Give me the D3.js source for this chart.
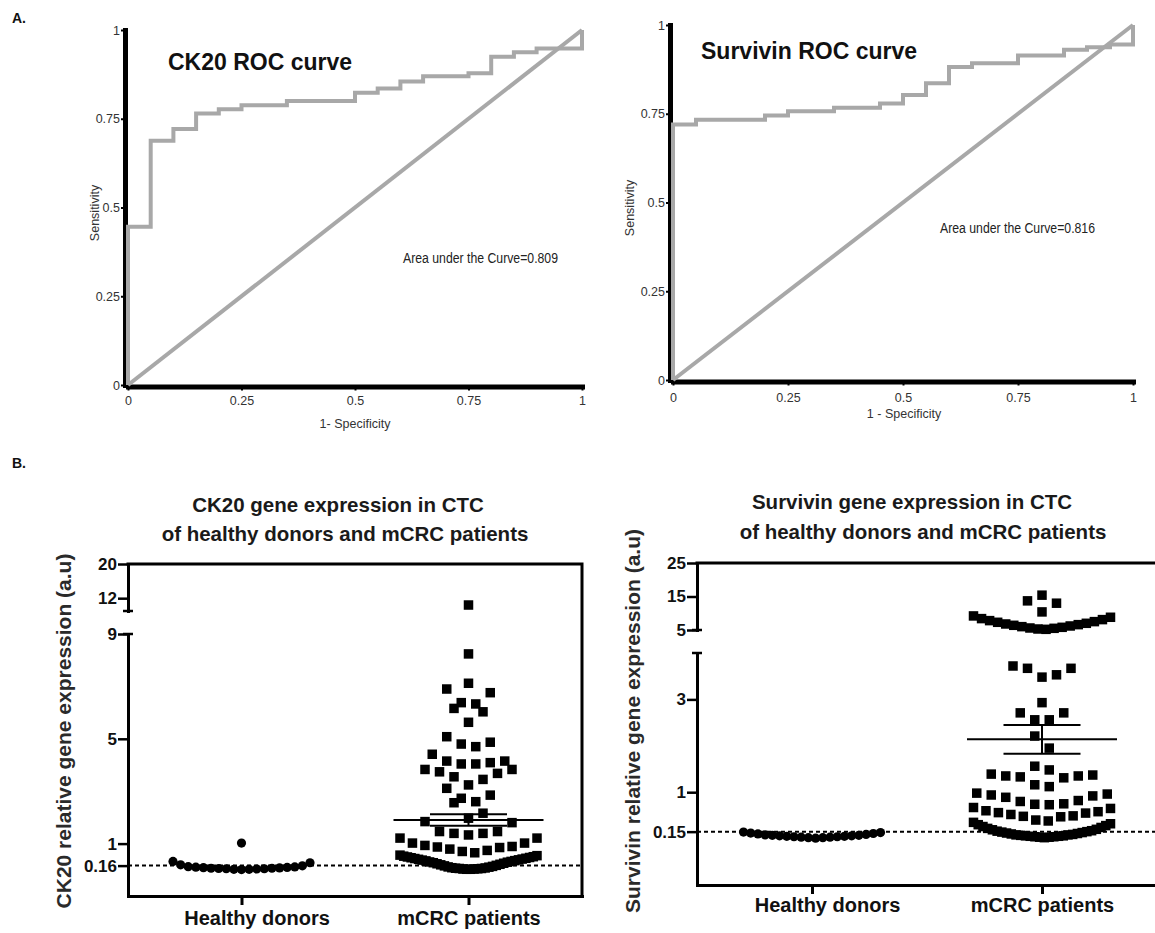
<!DOCTYPE html>
<html><head><meta charset="utf-8">
<script src="https://cdn.jsdelivr.net/npm/d3@7"></script>
<style>
body{margin:0;background:#fff}
svg{display:block}
</style>
</head><body>
<svg id="c" width="1155" height="933"></svg>
<script>
// ---------------- DATA ----------------
const rocTicks = [0, 0.25, 0.5, 0.75, 1];
const rocTickLabels = ["0", "0.25", "0.5", "0.75", "1"];

const ck20RocFpr = [0, 0, 0.05, 0.10, 0.15, 0.20, 0.25, 0.35, 0.50, 0.55, 0.60, 0.65, 0.75, 0.80, 0.85, 0.90, 1];
const ck20RocTpr = [0, 0.446, 0.688, 0.721, 0.765, 0.777, 0.788, 0.800, 0.823, 0.835, 0.855, 0.870, 0.878, 0.925, 0.937, 0.948, 1];
const ck20Auc = "0.809";

const survRocFpr = [0, 0, 0.05, 0.20, 0.25, 0.35, 0.45, 0.50, 0.55, 0.60, 0.65, 0.75, 0.85, 0.90, 0.95, 1];
const survRocTpr = [0, 0.720, 0.733, 0.745, 0.757, 0.767, 0.779, 0.803, 0.836, 0.882, 0.892, 0.914, 0.930, 0.937, 0.945, 1];
const survAuc = "0.816";

const groups = ["Healthy donors", "mCRC patients"];

const ck20Healthy = [1.02, 0.32, 0.27, 0.19, 0.15, 0.12, 0.11, 0.10, 0.09, 0.08,
  0.07, 0.06, 0.06, 0.05, 0.04, 0.04, 0.03, 0.02, 0.02, 0.01];
const ck20Patients = [10.4, 8.24, 7.12, 6.90, 6.76, 6.38, 6.33, 6.16, 6.03, 5.63,
  5.08, 4.87, 4.80, 4.70, 4.41, 4.15, 4.15, 4.09, 4.04, 4.04,
  3.83, 3.83, 3.74, 3.68, 3.55, 3.45, 3.24, 3.11, 2.85, 2.73,
  2.60, 2.56, 2.16, 1.97, 1.84, 1.80, 1.46, 1.46, 1.39, 1.39,
  1.33, 1.21, 1.21, 1.02, 1.02, 0.93, 0.89, 0.87, 0.85, 0.79,
  0.74, 0.70, 0.65,
  0.56, 0.54, 0.52, 0.50, 0.49, 0.47, 0.46, 0.44, 0.43, 0.41,
  0.40, 0.38, 0.37, 0.35, 0.34, 0.32, 0.30, 0.29, 0.27, 0.25,
  0.23, 0.21, 0.19, 0.17, 0.15, 0.13, 0.11, 0.10, 0.08, 0.07,
  0.06, 0.05, 0.05, 0.04, 0.03, 0.03, 0.02, 0.02];
const ck20Cutoff = 0.16;
const ck20PatientMean = 1.90;
const ck20PatientSem = 0.22;
const ck20UpperTicks = [20, 12];
const ck20LowerTicks = [9, 5, 1, 0.16];

const survHealthy = [0.01, 0.02, 0.02, 0.03, 0.03, 0.04, 0.04, 0.05, 0.05, 0.06,
  0.06, 0.07, 0.07, 0.08, 0.09, 0.10, 0.11, 0.12, 0.13, 0.14];
const survPatients = [15.4, 13.7, 13.0, 10.4,
  9.2, 8.8, 8.4, 8.1, 7.8, 7.5, 7.3, 7.0, 6.8, 6.6, 6.4, 6.2, 6.0, 5.8, 5.6, 5.5, 5.3, 5.2,
  3.72, 3.67, 3.67, 3.53, 3.48, 2.93, 2.71, 2.71, 2.56, 2.56,
  2.21, 1.95, 1.56, 1.48, 1.39, 1.37, 1.35, 1.35, 1.33, 1.31, 1.16, 1.12,
  0.98, 0.96, 0.94, 0.92, 0.89, 0.82, 0.80, 0.75, 0.74, 0.73,
  0.67, 0.65, 0.60, 0.58, 0.56, 0.55, 0.52, 0.49, 0.48, 0.47, 0.40, 0.38,
  0.35, 0.32, 0.30, 0.28, 0.26, 0.24, 0.22, 0.20, 0.19, 0.17,
  0.16, 0.15, 0.14, 0.13, 0.12, 0.11, 0.10, 0.09, 0.08, 0.08,
  0.07, 0.06, 0.06, 0.05, 0.05, 0.04, 0.04, 0.03, 0.03, 0.02];
const survCutoff = 0.15;
const survPatientMean = 2.14;
const survPatientSem = 0.31;
const survUpperTicks = [25, 15, 5];
const survLowerTicks = [3, 1, 0.15];

// ---------------- STYLE / LAYOUT CONSTANTS ----------------
const FONT = '"Liberation Sans", Arial, Helvetica, sans-serif';
const GREY = "#a8a8a8";
const ROW_H = 16, SLOT = 14.5, MAX_W = 137, SQ = 9.5, CR = 4.6;

const svg = d3.select("#c");

function txt(g, s, x, y, size, weight, fill, anchor) {
  return g.append("text").attr("x", x).attr("y", y).text(s)
    .style("font-family", FONT).style("font-size", size + "px")
    .style("font-weight", weight || "normal").attr("fill", fill || "#111")
    .attr("text-anchor", anchor || "start");
}

// ---------------- ROC PANELS ----------------
function rocPanel(o) {
  const g = svg.append("g");
  const x = d3.scaleLinear().domain([0, 1]).range([o.left, o.right]);
  const y = d3.scaleLinear().domain([0, 1]).range([o.bottom, o.top]);
  const fmt = (d, i) => rocTickLabels[i];

  const ax = g.append("g").attr("transform", `translate(0,${o.bottom + 1.5})`)
    .call(d3.axisBottom(x).tickValues(rocTicks).tickFormat(fmt).tickSize(4).tickPadding(o.xPad).tickSizeOuter(0));
  const ay = g.append("g").attr("transform", `translate(${o.left - 3},0)`)
    .call(d3.axisLeft(y).tickValues(rocTicks).tickFormat(fmt).tickSize(4).tickPadding(1).tickSizeOuter(0));
  [ax, ay].forEach(a => {
    a.select(".domain").attr("stroke", "#000").attr("stroke-width", 5).attr("stroke-linecap", "square");
    a.selectAll(".tick line").attr("stroke", "#000").attr("stroke-width", 2);
    a.selectAll(".tick text").attr("fill", "#333").style("font-size", "12.5px").style("font-family", FONT);
  });

  g.append("path").datum([0, 1])
    .attr("d", d3.line().x(d => x(d)).y(d => y(d)))
    .attr("fill", "none").attr("stroke", GREY).attr("stroke-width", 4);

  const idx = d3.range(o.fpr.length);
  g.append("path").datum(idx)
    .attr("d", d3.line().curve(d3.curveStepAfter).x(i => x(o.fpr[i])).y(i => y(o.tpr[i])))
    .attr("fill", "none").attr("stroke", GREY).attr("stroke-width", 4).attr("stroke-linejoin", "miter");

  txt(g, o.title, o.titleX, o.titleY, 23, "bold", "#111");
  txt(g, "Area under the Curve=" + o.auc, o.aucX, o.aucY, 14, "normal", "#222")
    .attr("textLength", 155).attr("lengthAdjust", "spacingAndGlyphs");
  txt(g, o.xLabel, o.xLabX, o.xLabY, 12.5, "normal", "#333", "middle");
  txt(g, "Sensitivity", 0, 0, 12.5, "normal", "#333", "middle")
    .attr("transform", `translate(${o.yLabX},${o.yLabY}) rotate(-90)`);
}

rocPanel({fpr: ck20RocFpr, tpr: ck20RocTpr, auc: ck20Auc, left: 128, right: 582, top: 30, bottom: 385,
  xPad: 6, title: "CK20 ROC curve", titleX: 168, titleY: 70, aucX: 403, aucY: 263,
  xLabel: "1- Specificity", xLabX: 355, xLabY: 428, yLabX: 99, yLabY: 213});
rocPanel({fpr: survRocFpr, tpr: survRocTpr, auc: survAuc, left: 673, right: 1133, top: 25, bottom: 380,
  xPad: 8, title: "Survivin ROC curve", titleX: 701, titleY: 59, aucX: 940, aucY: 233,
  xLabel: "1 - Specificity", xLabX: 904, xLabY: 418, yLabX: 634, yLabY: 208});

// ---------------- SCATTER PANELS ----------------
function swarm(values, ypix, cx) {
  const pts = values.map(v => ({v, y: ypix(v)})).sort((a, b) => b.y - a.y || a.v - b.v);
  const out = [];
  let i = 0;
  while (i < pts.length) {
    const start = pts[i].y, row = [];
    while (i < pts.length && start - pts[i].y <= ROW_H + 1e-6) row.push(pts[i++]);
    const n = row.length;
    const sp = n > 1 ? Math.min(SLOT, MAX_W / (n - 1)) : 0;
    row.forEach((p, r) => {
      let m, side;
      if (n % 2) { m = Math.ceil(r / 2); side = r % 2 ? 1 : -1; }
      else { m = Math.floor(r / 2) + 0.5; side = r % 2 ? -1 : 1; }
      out.push({v: p.v, x: cx + side * m * sp, y: p.y});
    });
  }
  return out;
}

function scatterPanel(o) {
  const g = svg.append("g");
  const lower = d3.scaleLinear().domain(o.lowerDomain).range([o.bottom, o.lowerTop]);
  const upper = d3.scaleLinear().domain(o.upperDomain).range([o.upperBottom, o.top]);
  const ypix = v => v > o.lowerDomain[1] ? upper(v) : lower(v);
  const x = d3.scalePoint().domain(groups).range([o.left, o.right]).padding(0.5);

  // titles
  txt(g, o.title1, o.t1x, o.t1y, 20.5, "bold", "#1a1a1a", "middle");
  txt(g, "of healthy donors and mCRC patients", o.t2x, o.t2y, 20.5, "bold", "#1a1a1a", "middle");
  txt(g, o.yLabel, 0, 0, 21, "bold", "#2a2a2a", "middle")
    .attr("transform", `translate(${o.yLabX},${o.yLabY}) rotate(-90)`);

  // frame (top + right)
  g.append("path").attr("d", `M${o.left},${o.top}H${o.right}V${o.bottom}`)
    .attr("fill", "none").attr("stroke", "#000").attr("stroke-width", 3).attr("stroke-linecap", "square");

  // cutoff dashed line
  g.append("line").attr("x1", o.left).attr("x2", o.right)
    .attr("y1", ypix(o.cutoff)).attr("y2", ypix(o.cutoff))
    .attr("stroke", "#000").attr("stroke-width", 2).attr("stroke-dasharray", "4,3");

  // points
  const hp = swarm(o.healthy, ypix, x(groups[0]));
  g.selectAll(".hd").data(hp).join("circle").attr("class", "hd")
    .attr("cx", d => d.x).attr("cy", d => d.y).attr("r", CR).attr("fill", "#000");
  const pp = swarm(o.patients, ypix, x(groups[1]));
  g.selectAll(".pt").data(pp).join("rect").attr("class", "pt")
    .attr("x", d => d.x - SQ / 2).attr("y", d => d.y - SQ / 2)
    .attr("width", SQ).attr("height", SQ).attr("fill", "#000");

  // mean +/- SEM
  const cx = x(groups[1]);
  const ym = ypix(o.mean), yHi = ypix(o.mean + o.sem), yLo = ypix(o.mean - o.sem);
  const ln = (x1, y1, x2, y2) => g.append("line").attr("x1", x1).attr("y1", y1).attr("x2", x2).attr("y2", y2)
    .attr("stroke", "#000").attr("stroke-width", 2);
  ln(cx - 75, ym, cx + 75, ym);
  ln(cx - 38.5, yHi, cx + 38.5, yHi);
  ln(cx - 38.5, yLo, cx + 38.5, yLo);
  ln(cx, yHi, cx, yLo);

  // y axes (broken)
  const styleY = a => {
    a.select(".domain").attr("stroke", "#000").attr("stroke-width", 3).attr("stroke-linecap", "square");
    a.selectAll(".tick line").attr("stroke", "#000").attr("stroke-width", 2.5);
    a.selectAll(".tick text").attr("fill", "#111").style("font-size", "17px")
      .style("font-weight", "bold").style("font-family", FONT);
  };
  g.append("g").attr("transform", `translate(${o.left},0)`)
    .call(d3.axisLeft(lower).tickValues(o.lowerTicks).tickFormat(d => String(d)).tickSize(10).tickPadding(1).tickSizeOuter(0))
    .call(styleY);
  g.append("g").attr("transform", `translate(${o.left},0)`)
    .call(d3.axisLeft(upper).tickValues(o.upperTicks).tickFormat(d => String(d)).tickSize(10).tickPadding(1).tickSizeOuter(0))
    .call(styleY);
  // break caps
  [o.upperBottom, o.lowerTop].forEach(yy => {
    g.append("line").attr("x1", o.left - 5).attr("x2", o.left + 5).attr("y1", yy).attr("y2", yy)
      .attr("stroke", "#000").attr("stroke-width", 2.5);
  });

  // x axis
  const xa = g.append("g").attr("transform", `translate(0,${o.bottom})`)
    .call(d3.axisBottom(x).tickSize(9).tickPadding(o.xPad).tickSizeOuter(0));
  xa.select(".domain").attr("stroke", "#000").attr("stroke-width", 3).attr("stroke-linecap", "square");
  xa.selectAll(".tick line").attr("stroke", "#000").attr("stroke-width", 3);
  xa.selectAll(".tick text").attr("fill", "#111").style("font-size", "20px")
    .style("font-weight", "bold").style("font-family", FONT)
    .attr("dx", d => d === groups[0] ? 15 : 0);
}

scatterPanel({left: 128, right: 582, top: 564, bottom: 896, lowerTop: 634, upperBottom: 611,
  lowerDomain: [-1, 9], upperDomain: [9, 20], lowerTicks: ck20LowerTicks, upperTicks: ck20UpperTicks,
  healthy: ck20Healthy, patients: ck20Patients, cutoff: ck20Cutoff, mean: ck20PatientMean, sem: ck20PatientSem,
  title1: "CK20 gene expression in CTC", t1x: 338, t1y: 512, t2x: 345, t2y: 541,
  yLabel: "CK20 relative gene expression (a.u)", yLabX: 71, yLabY: 731, xPad: 6});
scatterPanel({left: 697, right: 1157, top: 563, bottom: 885, lowerTop: 653, upperBottom: 630,
  lowerDomain: [-1, 4], upperDomain: [5, 25], lowerTicks: survLowerTicks, upperTicks: survUpperTicks,
  healthy: survHealthy, patients: survPatients, cutoff: survCutoff, mean: survPatientMean, sem: survPatientSem,
  title1: "Survivin gene expression in CTC", t1x: 912, t1y: 509, t2x: 923, t2y: 539,
  yLabel: "Survivin relative gene expression (a.u)", yLabX: 640, yLabY: 721, xPad: 4});

// panel letters
txt(svg, "A.", 12, 23, 14, "bold", "#111");
txt(svg, "B.", 12, 468, 14, "bold", "#111");
</script>
</body></html>
